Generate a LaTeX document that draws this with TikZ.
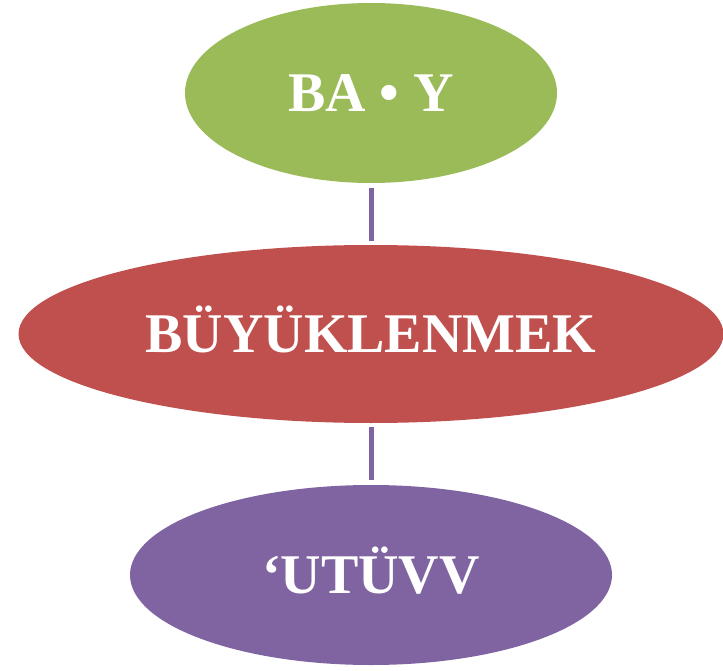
\documentclass[tikz,border=0pt]{standalone}
\usepackage{fontspec}
\setmainfont{Liberation Serif}
\usetikzlibrary{shapes.geometric}
\definecolor{olivegreen}{HTML}{9BBB59}
\definecolor{brickred}{HTML}{C0504D}
\definecolor{lavender}{HTML}{8064A2}
\begin{document}
\begin{tikzpicture}[x=1pt,y=1pt,
  blob/.style={ellipse, inner sep=0pt, draw=none, text=white,
    text height=37pt, text depth=0pt,
    font=\bfseries\fontsize{56}{56}\selectfont},
  link/.style={draw=lavender, line width=5pt}]
\useasboundingbox (0,0) rectangle (723,-671);
\node[blob, fill=olivegreen, minimum width=372pt, minimum height=180pt] (top) at (371,-93) {BA • Y};
\node[blob, fill=brickred, minimum width=705pt, minimum height=178pt] (mid) at (371,-334) {BÜYÜKLENMEK};
\node[blob, fill=lavender, minimum width=482pt, minimum height=180pt] (bot) at (371,-575) {‘UTÜVV};
\draw[link] ([yshift=-5pt]top.south) -- ([yshift=4pt]mid.north);
\draw[link] ([yshift=-4pt]mid.south) -- ([yshift=5pt]bot.north);
\end{tikzpicture}
\end{document}
